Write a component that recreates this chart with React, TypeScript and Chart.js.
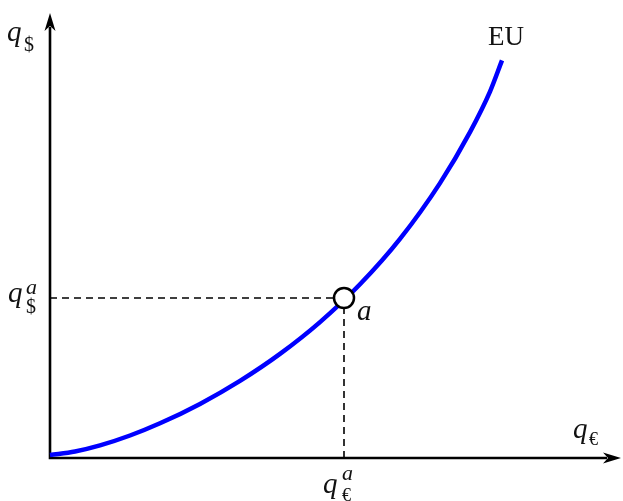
import React, { useEffect, useRef } from "react";
import { Chart, registerables } from "chart.js";

Chart.register(...registerables);

// ---- data ----
const curveX = [0, 25, 50, 80, 110, 150, 190, 230, 270, 310, 350, 390, 420, 440, 452];
const curveY = [3, 6.5, 12.6, 22.5, 34.7, 54.1, 77.1, 104.1, 135.9, 173.7, 219.1, 274.9, 325.9, 366.4, 397.6];
const pointA = { x: 294, y: 160 };
const seriesName = "EU";
const pointName = "a";
const xAxisLabel = ["q", "€"];
const yAxisLabel = ["q", "$"];
const xTickLabel = ["q", "a", "€"];
const yTickLabel = ["q", "a", "$"];
const xRange = [0, 560];
const yRange = [0, 440];

const SERIF = '"Liberation Serif", "DejaVu Serif", serif';

function arrowHead(ctx: CanvasRenderingContext2D, tx: number, ty: number, dx: number, dy: number) {
  const len = 18, half = 5.5, notch = 13;
  const px = -dy, py = dx;
  ctx.beginPath();
  ctx.moveTo(tx, ty);
  ctx.lineTo(tx - dx * len + px * half, ty - dy * len + py * half);
  ctx.lineTo(tx - dx * notch, ty - dy * notch);
  ctx.lineTo(tx - dx * len - px * half, ty - dy * len - py * half);
  ctx.closePath();
  ctx.fill();
}

const axesPlugin = {
  id: "econAxes",
  beforeDatasetsDraw(chart: any) {
    const ctx = chart.ctx as CanvasRenderingContext2D;
    const xs = chart.scales.x, ys = chart.scales.y;
    const x0 = xs.getPixelForValue(xRange[0]);
    const y0 = ys.getPixelForValue(yRange[0]);
    const xTip = chart.width - 2;
    const yTip = 13;
    ctx.save();
    ctx.strokeStyle = "#000";
    ctx.fillStyle = "#000";
    ctx.lineWidth = 2.6;
    ctx.beginPath();
    ctx.moveTo(x0, y0 + 1.3);
    ctx.lineTo(x0, yTip + 14);
    ctx.moveTo(x0 - 1.3, y0);
    ctx.lineTo(xTip - 14, y0);
    ctx.stroke();
    arrowHead(ctx, x0, yTip, 0, -1);
    arrowHead(ctx, xTip, y0, 1, 0);
    ctx.restore();
  },
  afterDraw(chart: any) {
    const ctx = chart.ctx as CanvasRenderingContext2D;
    const xs = chart.scales.x, ys = chart.scales.y;
    const ax = xs.getPixelForValue(pointA.x);
    const ay = ys.getPixelForValue(pointA.y);
    const y0 = ys.getPixelForValue(yRange[0]);
    ctx.save();
    ctx.fillStyle = "#111";
    ctx.textBaseline = "alphabetic";
    ctx.textAlign = "left";
    const big = `italic 29px ${SERIF}`;
    const bigUp = `27px ${SERIF}`;
    const subD = `20px ${SERIF}`;
    const subE = `18px ${SERIF}`;
    const supI = `italic 22px ${SERIF}`;
    // y axis label q$
    ctx.font = big;
    ctx.fillText(yAxisLabel[0], 7, 41);
    ctx.font = subD;
    ctx.fillText(yAxisLabel[1], 24, 51);
    // x axis label q€
    ctx.font = big;
    ctx.fillText(xAxisLabel[0], 573, y0 - 20);
    ctx.font = subE;
    ctx.fillText(xAxisLabel[1], 589, y0 - 13);
    // y tick label
    ctx.font = big;
    ctx.fillText(yTickLabel[0], 8, ay + 4);
    ctx.font = supI;
    ctx.fillText(yTickLabel[1], 26, ay - 4);
    ctx.font = subD;
    ctx.fillText(yTickLabel[2], 26, ay + 15);
    // x tick label
    ctx.font = big;
    ctx.fillText(xTickLabel[0], ax - 21, y0 + 35);
    ctx.font = supI;
    ctx.fillText(xTickLabel[1], ax - 2, y0 + 22);
    ctx.font = subE;
    ctx.fillText(xTickLabel[2], ax - 2, y0 + 43);
    // series label
    ctx.font = bigUp;
    ctx.fillText(seriesName, 488, 45);
    // point label
    ctx.font = big;
    ctx.fillText(pointName, ax + 13, ay + 22);
    ctx.restore();
  },
};

export default function App() {
  const ref = useRef<HTMLCanvasElement | null>(null);
  useEffect(() => {
    if (!ref.current) return;
    const chart = new Chart(ref.current, {
      type: "line",
      data: {
        datasets: [
          {
            label: pointName,
            data: [pointA],
            showLine: false,
            pointRadius: 10,
            pointHoverRadius: 10,
            pointBackgroundColor: "#fff",
            pointBorderColor: "#000",
            pointBorderWidth: 2.5,
            order: 0,
            clip: false as any,
          },
          {
            label: seriesName,
            data: curveX.map((x, i) => ({ x, y: curveY[i] })),
            borderColor: "#0000ff",
            borderWidth: 4.5,
            pointRadius: 0,
            cubicInterpolationMode: "monotone",
            borderCapStyle: "butt",
            fill: false,
            order: 1,
            clip: false as any,
          },
          {
            label: "h",
            data: [{ x: xRange[0], y: pointA.y }, { x: pointA.x, y: pointA.y }],
            borderColor: "#000",
            borderWidth: 1.6,
            borderDash: [7, 5],
            pointRadius: 0,
            order: 2,
          },
          {
            label: "v",
            data: [{ x: pointA.x, y: yRange[0] }, { x: pointA.x, y: pointA.y }],
            borderColor: "#000",
            borderWidth: 1.6,
            borderDash: [7, 5],
            pointRadius: 0,
            order: 2,
          },
        ] as any,
      },
      options: {
        animation: false,
        responsive: false,
        devicePixelRatio: 1,
        layout: { padding: { left: 50, right: 13, top: 18, bottom: 43 } },
        plugins: { legend: { display: false }, tooltip: { enabled: false } },
        events: [],
        scales: {
          x: { type: "linear", min: xRange[0], max: xRange[1], display: false },
          y: { type: "linear", min: yRange[0], max: yRange[1], display: false },
        },
      },
      plugins: [axesPlugin],
    });
    return () => chart.destroy();
  }, []);
  return (
    <div style={{ position: "absolute", left: 0, top: 0, width: 623, height: 501, background: "#fff" }}>
      <canvas ref={ref} width={623} height={501} style={{ display: "block" }} />
    </div>
  );
}
